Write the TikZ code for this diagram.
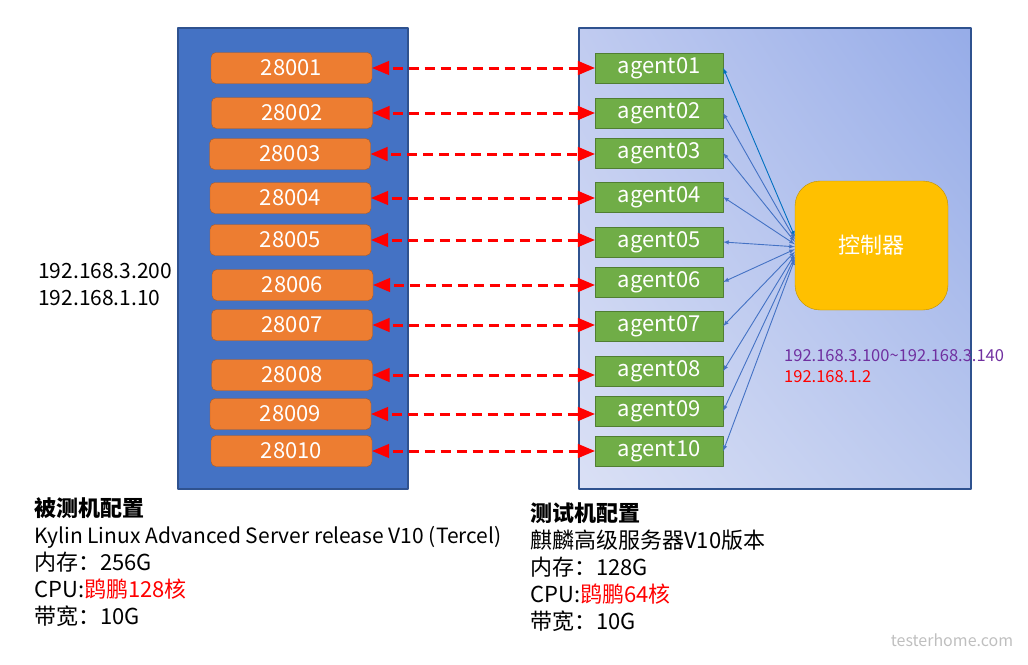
\documentclass[tikz,border=0pt]{standalone}
\usepackage{fontspec}
\setmainfont{Noto Sans CJK SC}
\usepackage{xcolor}
\usepackage{tikz}
\usetikzlibrary{shapes,arrows}
\usetikzlibrary{calc}
\usetikzlibrary{shadings}
\definecolor{hostblue}{HTML}{4472C4}
\definecolor{hostedge}{HTML}{2F528F}
\definecolor{portorange}{HTML}{ED7D31}
\definecolor{portedge}{HTML}{AE5A21}
\definecolor{agentgreen}{HTML}{70AD47}
\definecolor{agentedge}{HTML}{507E32}
\definecolor{ctrlyellow}{HTML}{FFC000}
\definecolor{ctrledge}{HTML}{BF9000}
\definecolor{linkblue}{HTML}{4472C4}
\definecolor{firstblue}{HTML}{0070C0}
\definecolor{ippurple}{HTML}{7030A0}
\definecolor{shadeUL}{HTML}{C0CBF0}
\definecolor{shadeUR}{HTML}{96ACE8}
\definecolor{shadeLL}{HTML}{DAE0F5}
\definecolor{shadeLR}{HTML}{BAC8EE}
\newcommand{\latinline}[1]{{\fontsize{21}{27}\selectfont #1}}
\tikzset{
	bigfont/.style={font=\fontsize{22}{27}\selectfont},
	port/.style={draw=portedge, fill=portorange, rounded corners=5pt, minimum width=161pt, minimum height=31pt, inner sep=0pt, text=white, bigfont},
	agent/.style={draw=agentedge, fill=agentgreen, minimum width=128pt, minimum height=30pt, inner sep=0pt, text=white, bigfont},
	ctrlbox/.style={draw=ctrledge, fill=ctrlyellow, rounded corners=25pt, minimum width=153pt, minimum height=129pt, inner sep=0pt, text=white, bigfont},
	infotext/.style={anchor=north west, align=left, inner sep=0pt, bigfont},
	redlink/.style={<->, >=triangle 45, draw=red, line width=3pt, dash pattern=on 10pt off 6pt},
	bluelink/.style={<->, >=latex, draw=linkblue, line width=0.9pt}
}
\begin{document}
\begin{tikzpicture}[line join=round,x=1pt,y=-1pt]
		\useasboundingbox (0,0) rectangle (1028,664);
		% the two machines
		\node[draw=hostedge, fill=hostblue, line width=1.2pt, minimum width=230pt, minimum height=461pt] (host) at (293,258.5) {};
		\shade[upper left=shadeUL, upper right=shadeUR, lower left=shadeLL, lower right=shadeLR] (579,28) rectangle (971,489);
		\draw[hostedge, line width=1.2pt] (579,28) rectangle (971,489);
		\node[ctrlbox] (ctrl) at (871.5,245.5) {控制器};
		% ports and agents
		\foreach \i/\px/\py/\ay in {01/291.5/68/68, 02/292/113/113, 03/290/154/153, 04/290.5/198/197, 05/290.5/240/242,
			06/292.5/285/282, 07/292/325/326, 08/292/375/371, 09/290.5/414/411, 10/291.5/451/451}{
			\node[port] (p\i) at (\px,\py) {280\i};
			\node[agent] (a\i) at (659,\ay) {agent\i};
			\draw[redlink] (p\i.east) -- (p\i.east -| a\i.west);
		}
		\draw[bluelink, draw=firstblue] (a01.east) -- ($(ctrl.west)+(0,-9)$);
		\foreach \i [count=\k from 2] in {02,03,04,05,06,07,08,09,10}
			\draw[bluelink] (a\i.east) -- ($(ctrl.west)+(0,{(\k-4.5)*2.5})$);
		% addresses
		\node[infotext, font=\fontsize{21}{27}\selectfont] (hostip) at (38,263) {192.168.3.200\\192.168.1.10};
		\node[infotext, font=\fontsize{16.5}{21}\selectfont] (agentip) at (784,349) {\textcolor{ippurple}{192.168.3.100\textasciitilde192.168.3.140}\\\textcolor{red}{192.168.1.2}};
		% configuration
		\node[infotext] (hostinfo) at (34,497) {\textbf{被测机配置}\\\latinline{Kylin Linux Advanced Server release V10 (Tercel)}\\内存：256G\\CPU:\textcolor{red}{鹍鹏128核}\\带宽：10G};
		\node[infotext] (testinfo) at (530,502) {\textbf{测试机配置}\\麒麟高级服务器V10版本\\内存：128G\\CPU:\textcolor{red}{鹍鹏64核}\\带宽：10G};
		\node[text=black!25, font=\fontsize{16}{18}\selectfont] (mark) at (952,640) {testerhome.com};
		
		\end{tikzpicture}
\end{document}
